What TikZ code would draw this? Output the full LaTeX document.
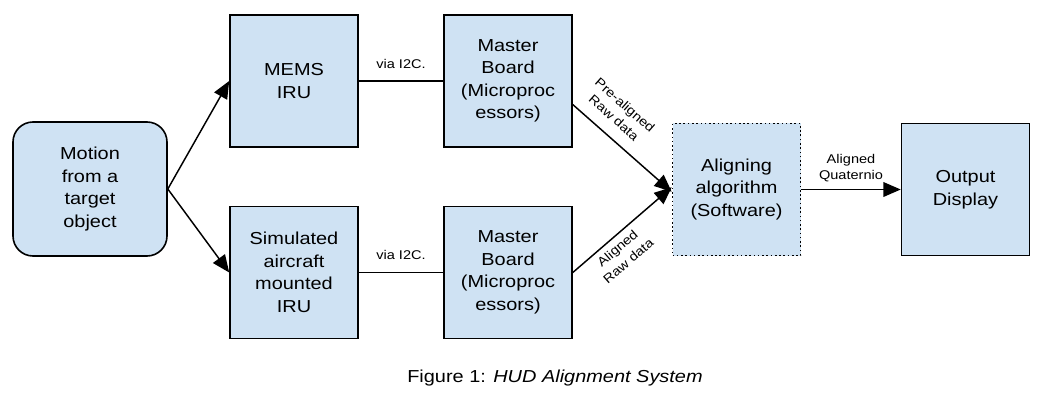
\documentclass[tikz,border=0pt]{standalone}
\usepackage{fontspec}
\setmainfont{Liberation Sans}[FakeStretch=1.15]
\usetikzlibrary{arrows.meta}
\definecolor{boxblue}{RGB}{207,226,243}
\tikzset{
    block/.style={
           rectangle,
           draw=black, line width=1.2pt,
           fill=boxblue,
           minimum width=96pt, minimum height=99pt,
           align=center,
           font=\fontsize{13}{16.9}\selectfont,
           },
}
\tikzset{
    link/.style={
           draw=black, line width=1.1pt,
           -{Triangle[length=13pt,width=11pt]},
           },
}
\tikzset{
    tag/.style={
           font=\fontsize{9.5}{12.5}\selectfont,
           align=center, inner sep=1pt,
           },
}

\begin{document}
\begin{tikzpicture}[x=0.75pt,y=-0.75pt]
\useasboundingbox (0,0) rectangle (1044,406);
\node[block,rounded corners=15pt,minimum width=115.5pt,minimum height=100.5pt](motion) at (90,189){Motion\\from a\\target\\object};
\node[block](mems) at (294,81){MEMS\\IRU};
\node[block](sim) at (294,272.5){Simulated\\aircraft\\mounted\\IRU};
\node[block](mb1) at (508,81){Master\\Board\\(Microproc\\essors)};
\node[block](mb2) at (508,272.5){Master\\Board\\(Microproc\\essors)};
\node[block,dotted](align) at (736.5,189.5){Aligning\\algorithm\\(Software)};
\node[block](out) at (965.5,189.5){Output\\Display};
\node[font=\fontsize{13}{15}\selectfont](caption) at (555,378){Figure 1: \textit{HUD Alignment System}};
\path (motion.east) edge[link] (mems.west);
\path (motion.east) edge[link] (sim.west);
\path (mems) edge[draw=black,line width=1.1pt] node[tag,above=8pt]{via I2C.} (mb1);
\path (sim) edge[draw=black,line width=1.1pt] node[tag,above=8pt]{via I2C.} (mb2);
\path (mb1.-20) edge[link] node[tag,sloped,above=8pt,pos=0.3]{Pre-aligned\\Raw data} (align.182);
\path (mb2.east) edge[link] node[tag,sloped,below=3pt,pos=0.38]{Aligned\\Raw data} (align.178);
\path (align) edge[link] node[tag,above=4pt]{Aligned\\Quaternio} (out);
\end{tikzpicture}
\end{document}
